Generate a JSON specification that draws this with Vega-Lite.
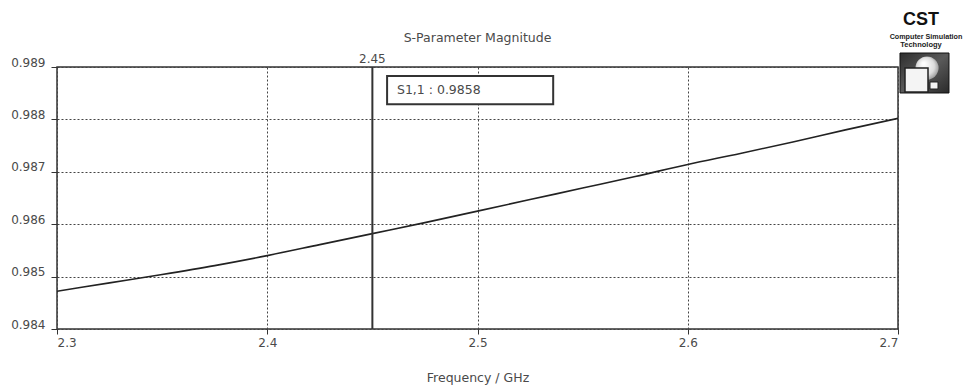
{
  "$schema": "https://vega.github.io/schema/vega-lite/v6.json",
  "width": 841,
  "height": 262,
  "autosize": "none",
  "padding": {"left": 57, "top": 67, "right": 68, "bottom": 59},
  "background": "white",
  "config": {
    "view": {"stroke": "#333", "strokeWidth": 1.5},
    "font": "DejaVu Sans",
    "axis": {
      "labelFont": "DejaVu Sans",
      "labelFontSize": 12,
      "labelColor": "#4a4a4a",
      "titleFont": "DejaVu Sans",
      "titleFontSize": 12.5,
      "titleFontWeight": "normal",
      "titleColor": "#4a4a4a",
      "domain": false,
      "grid": true,
      "gridColor": "#444",
      "gridDash": [2, 2],
      "gridWidth": 1,
      "gridOpacity": 1,
      "tickColor": "#333",
      "tickWidth": 1
    }
  },
  "title": {
    "text": "S-Parameter Magnitude",
    "font": "DejaVu Sans",
    "fontSize": 12.5,
    "fontWeight": "normal",
    "color": "#4a4a4a",
    "anchor": "middle",
    "frame": "group",
    "offset": -33
  },
  "layer": [
    {
      "data": {
        "values": [
          {"freq": 2.300, "s11": 0.98472},
          {"freq": 2.325, "s11": 0.98488},
          {"freq": 2.350, "s11": 0.98504},
          {"freq": 2.375, "s11": 0.98521},
          {"freq": 2.400, "s11": 0.98540},
          {"freq": 2.425, "s11": 0.98561},
          {"freq": 2.450, "s11": 0.98582},
          {"freq": 2.475, "s11": 0.98603},
          {"freq": 2.500, "s11": 0.98625},
          {"freq": 2.525, "s11": 0.98647},
          {"freq": 2.550, "s11": 0.98669},
          {"freq": 2.575, "s11": 0.98691},
          {"freq": 2.600, "s11": 0.98714},
          {"freq": 2.625, "s11": 0.98735},
          {"freq": 2.650, "s11": 0.98757},
          {"freq": 2.675, "s11": 0.98780},
          {"freq": 2.700, "s11": 0.98802}
        ]
      },
      "mark": {"type": "line", "color": "#222", "strokeWidth": 1.6, "interpolate": "monotone", "clip": true},
      "encoding": {
        "x": {
          "field": "freq",
          "type": "quantitative",
          "scale": {"domain": [2.3, 2.7], "nice": false, "zero": false},
          "axis": {
            "values": [2.3, 2.4, 2.5, 2.6, 2.7],
            "format": ".1f",
            "tickSize": 5,
            "labelPadding": 3,
            "title": "Frequency / GHz",
            "titleY": 48,
            "titleBaseline": "middle"
          }
        },
        "y": {
          "field": "s11",
          "type": "quantitative",
          "scale": {"domain": [0.984, 0.989], "nice": false, "zero": false},
          "axis": {
            "values": [0.984, 0.985, 0.986, 0.987, 0.988, 0.989],
            "format": ".3f",
            "tickSize": 6,
            "labelPadding": 6,
            "labelBaseline": "alphabetic",
            "labelOffset": -1,
            "title": null
          }
        }
      }
    },
    {
      "data": {"values": [{}]},
      "mark": {"type": "rule", "color": "#333", "strokeWidth": 2},
      "encoding": {
        "x": {"datum": 2.45, "type": "quantitative"},
        "y": {"datum": 0.984, "type": "quantitative"},
        "y2": {"datum": 0.989}
      }
    },
    {
      "data": {"values": [{}]},
      "mark": {"type": "text", "fontSize": 12, "color": "#4a4a4a", "baseline": "alphabetic", "align": "center", "dy": -4},
      "encoding": {
        "x": {"datum": 2.45, "type": "quantitative"},
        "y": {"datum": 0.989, "type": "quantitative"},
        "text": {"value": "2.45"}
      }
    },
    {
      "data": {"values": [{}]},
      "mark": {"type": "rect", "fill": "white", "stroke": "#333", "strokeWidth": 2},
      "encoding": {
        "x": {"datum": 2.457, "type": "quantitative"},
        "x2": {"datum": 2.536},
        "y": {"datum": 0.98883, "type": "quantitative"},
        "y2": {"datum": 0.98829}
      }
    },
    {
      "data": {"values": [{}]},
      "mark": {"type": "text", "fontSize": 12.5, "color": "#4a4a4a", "baseline": "middle", "align": "left"},
      "encoding": {
        "x": {"datum": 2.4617, "type": "quantitative"},
        "y": {"datum": 0.98856, "type": "quantitative"},
        "text": {"value": "S1,1 : 0.9858"}
      }
    },
    {
      "data": {"values": [{}]},
      "mark": {"type": "text", "font": "Liberation Sans", "fontSize": 18, "fontWeight": "bold", "color": "#111", "baseline": "alphabetic", "align": "center"},
      "encoding": {
        "x": {"datum": 2.71093, "type": "quantitative"},
        "y": {"datum": 0.9898015, "type": "quantitative"},
        "text": {"value": "CST"}
      }
    },
    {
      "data": {"values": [{}]},
      "mark": {"type": "text", "font": "Liberation Sans", "fontSize": 7.2, "fontWeight": "bold", "color": "#222", "baseline": "alphabetic", "align": "center"},
      "encoding": {
        "x": {"datum": 2.71331, "type": "quantitative"},
        "y": {"datum": 0.989534, "type": "quantitative"},
        "text": {"value": "Computer Simulation"}
      }
    },
    {
      "data": {"values": [{}]},
      "mark": {"type": "text", "font": "Liberation Sans", "fontSize": 7.5, "fontWeight": "bold", "color": "#222", "baseline": "alphabetic", "align": "center"},
      "encoding": {
        "x": {"datum": 2.71093, "type": "quantitative"},
        "y": {"datum": 0.989382, "type": "quantitative"},
        "text": {"value": "Technology"}
      }
    },
    {
      "data": {"values": [{}]},
      "mark": {
        "type": "rect",
        "stroke": "#111",
        "strokeWidth": 1,
        "fill": {
          "gradient": "linear",
          "x1": 0, "y1": 0, "x2": 1, "y2": 1,
          "stops": [
            {"offset": 0, "color": "#2e2e2e"},
            {"offset": 0.5, "color": "#5a5a5a"},
            {"offset": 1, "color": "#2a2a2a"}
          ]
        }
      },
      "encoding": {
        "x": {"datum": 2.70095, "type": "quantitative"},
        "x2": {"datum": 2.72425},
        "y": {"datum": 0.989267, "type": "quantitative"},
        "y2": {"datum": 0.988504}
      }
    },
    {
      "data": {"values": [{}]},
      "mark": {
        "type": "point",
        "shape": "circle",
        "filled": true,
        "size": 530,
        "opacity": 1,
        "fill": {
          "gradient": "radial",
          "x1": 0.35, "y1": 0.3, "r1": 0.05,
          "x2": 0.5, "y2": 0.5, "r2": 0.6,
          "stops": [
            {"offset": 0, "color": "#ffffff"},
            {"offset": 0.6, "color": "#dddddd"},
            {"offset": 1, "color": "#808080"}
          ]
        }
      },
      "encoding": {
        "x": {"datum": 2.71379, "type": "quantitative"},
        "y": {"datum": 0.988981, "type": "quantitative"}
      }
    },
    {
      "data": {"values": [{}]},
      "mark": {"type": "rect", "fill": "#f4f4f4", "stroke": "#222", "strokeWidth": 1.5},
      "encoding": {
        "x": {"datum": 2.70333, "type": "quantitative"},
        "x2": {"datum": 2.71427},
        "y": {"datum": 0.988981, "type": "quantitative"},
        "y2": {"datum": 0.988523}
      }
    },
    {
      "data": {"values": [{}]},
      "mark": {"type": "rect", "fill": "#f4f4f4", "stroke": "#222", "strokeWidth": 1},
      "encoding": {
        "x": {"datum": 2.71522, "type": "quantitative"},
        "x2": {"datum": 2.71902},
        "y": {"datum": 0.988714, "type": "quantitative"},
        "y2": {"datum": 0.98858}
      }
    }
  ]
}
